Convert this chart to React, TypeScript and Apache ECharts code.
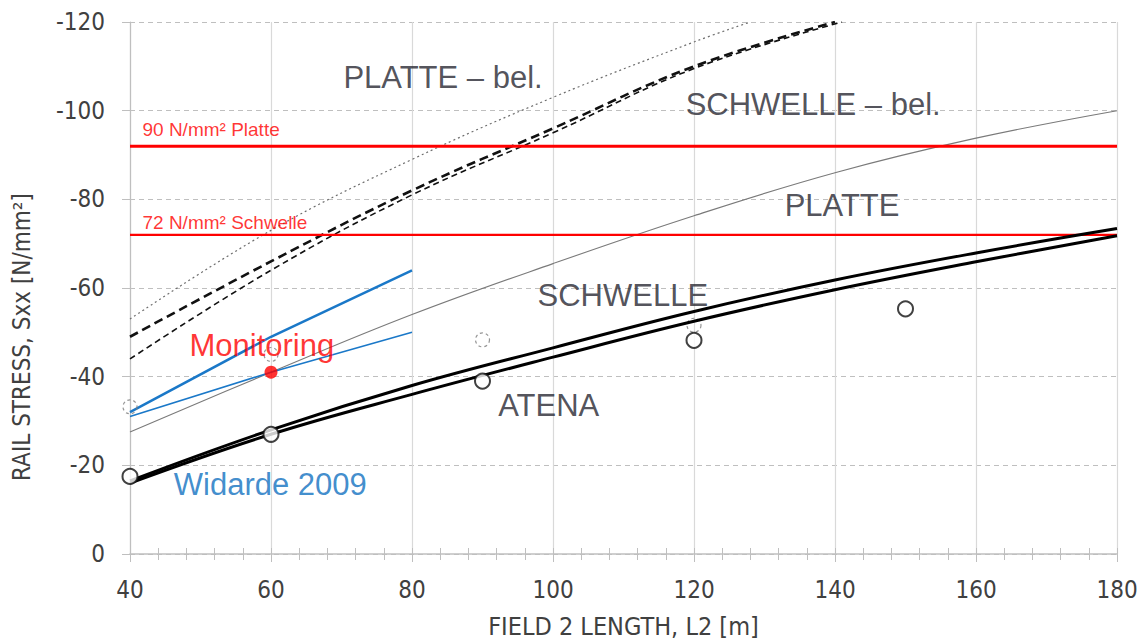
import React, { useEffect, useRef } from "react";
import * as echarts from "echarts";

// ---- data (x = field length L2 [m], y = rail stress [N/mm²]) ----
const platteBelX = [40, 60, 80, 100, 120, 128];
const platteBelY = [-53, -73, -89, -103, -115.5, -120];

const schwelleBelAX = [40, 60, 80, 100, 120, 140];
const schwelleBelAY = [-49, -66, -82, -96, -110, -120];
const schwelleBelBX = [40, 60, 80, 100, 120, 141];
const schwelleBelBY = [-44, -64, -81, -95, -109.5, -120];

const platteX = [40, 60, 80, 100, 120, 140, 160, 180];
const platteY = [-27.5, -41, -54, -65.5, -76.3, -86, -93.8, -100];

const schwelleUpX = [40, 60, 80, 100, 120, 140, 160, 180];
const schwelleUpY = [-16.5, -28, -38, -46.5, -54.7, -61.8, -67.9, -73.4];
const schwelleLoX = [40, 60, 80, 100, 120, 140, 160, 180];
const schwelleLoY = [-16, -27, -36, -44.4, -52.5, -59.6, -65.9, -71.8];

const widardeAX = [40, 60, 80];
const widardeAY = [-32, -49, -64];
const widardeBX = [40, 60, 80];
const widardeBY = [-31, -41, -50];

const atenaX = [40, 60, 90, 120, 150];
const atenaY = [-17.5, -27, -39, -48.2, -55.3];

const atenaBelX = [40, 60, 90, 120];
const atenaBelY = [-33.2, -45, -48.3, -51.6];

const monitoringX = [60];
const monitoringY = [-41];

const limitPlatte = -92;
const limitSchwelle = -72;
const limitRange = [40, 180];

const xTicks = [40, 180, 20];
const yTicks = [-120, 0, 20];

const annotations = [
  { text: "PLATTE – bel.", x: 84.4, y: -107.4, color: "#262630", size: 31, align: "center" },
  { text: "SCHWELLE – bel.", x: 136.9, y: -101.3, color: "#262630", size: 31, align: "center" },
  { text: "PLATTE", x: 141, y: -78.5, color: "#262630", size: 31, align: "center" },
  { text: "SCHWELLE", x: 109.9, y: -58.3, color: "#262630", size: 31, align: "center" },
  { text: "ATENA", x: 99.4, y: -33.4, color: "#262630", size: 31, align: "center" },
  { text: "Monitoring", x: 58.7, y: -47.1, color: "#ff0000", size: 31, align: "center" },
  { text: "Widarde 2009", x: 59.9, y: -15.7, color: "#1070c0", size: 31, align: "center" },
  { text: "90 N/mm² Platte", x: 41.7, y: -95.7, color: "#ff0000", size: 19, align: "left" },
  { text: "72 N/mm² Schwelle", x: 41.7, y: -74.7, color: "#ff0000", size: 19, align: "left" },
];

const zip = (xs: number[], ys: number[]) => xs.map((x, i) => [x, ys[i]]);

const AXIS_FONT = "'Liberation Sans Narrow', 'DejaVu Sans Condensed', 'Arial Narrow', sans-serif";
const TEXT_FONT = "'Liberation Sans', Arial, sans-serif";

export default function App() {
  const ref = useRef<HTMLDivElement>(null);

  useEffect(() => {
    if (!ref.current) return;
    const chart = echarts.init(ref.current, undefined, { renderer: "svg", width: 1145, height: 644 });

    const line = (name: string, data: number[][], color: string, width: number, type: any, z = 2, smooth: any = 0.4) => ({
      name,
      type: "line",
      data,
      smooth,
      symbol: "none",
      z,
      lineStyle: { color, width, type },
    });

    const xAxisBase = {
      type: "value",
      min: xTicks[0],
      max: xTicks[1],
      interval: xTicks[2],
      position: "bottom",
    };

    const option: any = {
      animation: false,
      backgroundColor: "#ffffff",
      grid: { left: 130, right: 28, top: 22, bottom: 79, containLabel: false },
      xAxis: [
        {
          ...xAxisBase,
          name: "FIELD 2 LENGTH, L2 [m]",
          nameLocation: "middle",
          nameGap: 60,
          nameTextStyle: { fontFamily: AXIS_FONT, fontSize: 25, color: "#404040" },
          axisLine: { show: true, lineStyle: { color: "#bfbfbf", width: 1.5 } },
          axisTick: { show: true, inside: false, length: 8, lineStyle: { color: "#bfbfbf" } },
          minorTick: { show: true, splitNumber: 5, length: 6, lineStyle: { color: "#bfbfbf" } },
          axisLabel: { fontFamily: AXIS_FONT, fontSize: 24, color: "#404040", margin: 24 },
          splitLine: { show: true, lineStyle: { color: "#d9d9d9", width: 1.2, type: "solid" } },
          minorSplitLine: { show: false },
        },
        {
          ...xAxisBase,
          axisLine: { show: false },
          axisTick: { show: true, inside: true, length: 6, lineStyle: { color: "#bfbfbf" } },
          minorTick: { show: true, splitNumber: 5, length: 6, lineStyle: { color: "#bfbfbf" } },
          axisLabel: { show: false },
          splitLine: { show: false },
        },
      ],
      yAxis: {
        type: "value",
        inverse: true,
        min: yTicks[0],
        max: yTicks[1],
        interval: yTicks[2],
        axisLine: { show: true, lineStyle: { color: "#bfbfbf", width: 1.2 } },
        axisTick: { show: true, length: 8, lineStyle: { color: "#bfbfbf" } },
        axisLabel: { fontFamily: AXIS_FONT, fontSize: 24, color: "#404040", margin: 25 },
        splitLine: { show: true, lineStyle: { color: "#bfbfbf", width: 1.2, type: [5, 4] } },
      },
      graphic: [
        {
          type: "text",
          x: 22,
          y: 337,
          rotation: Math.PI / 2,
          style: {
            text: "RAIL STRESS, Sxx [N/mm²]",
            fontFamily: AXIS_FONT,
            fontSize: 24,
            fill: "#404040",
            align: "center",
            verticalAlign: "middle",
          },
        },
      ],
      series: [
        line("90 N/mm² Platte", limitRange.map((x) => [x, limitPlatte]), "#ff0000", 3, "solid", 3, false),
        line("72 N/mm² Schwelle", limitRange.map((x) => [x, limitSchwelle]), "#ff0000", 2.2, "solid", 3, false),
        line("PLATTE – bel.", zip(platteBelX, platteBelY), "#6e6e6e", 1.2, [2, 3]),
        line("SCHWELLE – bel. A", zip(schwelleBelAX, schwelleBelAY), "#111111", 2.6, [9, 5]),
        line("SCHWELLE – bel. B", zip(schwelleBelBX, schwelleBelBY), "#111111", 1.6, [6, 4]),
        line("PLATTE", zip(platteX, platteY), "#7a7a7a", 1.1, "solid"),
        line("SCHWELLE up", zip(schwelleUpX, schwelleUpY), "#000000", 3, "solid", 4),
        line("SCHWELLE low", zip(schwelleLoX, schwelleLoY), "#000000", 3, "solid", 4),
        line("Widarde A", zip(widardeAX, widardeAY), "#1a78c8", 2.5, "solid", 3, false),
        line("Widarde B", zip(widardeBX, widardeBY), "#1a78c8", 1.6, "solid", 3, false),
        {
          name: "ATENA bel.",
          type: "scatter",
          data: zip(atenaBelX, atenaBelY),
          symbol: "circle",
          symbolSize: 14,
          z: 3,
          itemStyle: { color: "rgba(255,255,255,0)", borderColor: "#7a7a7a", borderWidth: 1.2, borderType: [3, 3] },
        },
        {
          name: "ATENA",
          type: "scatter",
          data: zip(atenaX, atenaY),
          symbol: "circle",
          symbolSize: 15,
          z: 5,
          itemStyle: { color: "#ffffff", borderColor: "#111111", borderWidth: 2 },
        },
        {
          name: "Monitoring",
          type: "scatter",
          data: zip(monitoringX, monitoringY),
          symbol: "circle",
          symbolSize: 13,
          z: 6,
          itemStyle: { color: "#ff0000" },
        },
        {
          name: "labels",
          type: "scatter",
          z: 7,
          symbol: "circle",
          symbolSize: 1,
          itemStyle: { color: "rgba(0,0,0,0)" },
          silent: true,
          data: annotations.map((a) => ({
            value: [a.x, a.y],
            label: {
              show: true,
              formatter: a.text,
              position: a.align === "left" ? "right" : "inside",
              distance: 0,
              color: a.color,
              fontSize: a.size,
              fontFamily: TEXT_FONT,
            },
          })),
        },
      ],
    };

    chart.setOption(option);
    return () => chart.dispose();
  }, []);

  return (
    <div
      ref={ref}
      style={{ position: "fixed", left: 0, top: 0, width: 1145, height: 644, background: "#fff" }}
    />
  );
}
